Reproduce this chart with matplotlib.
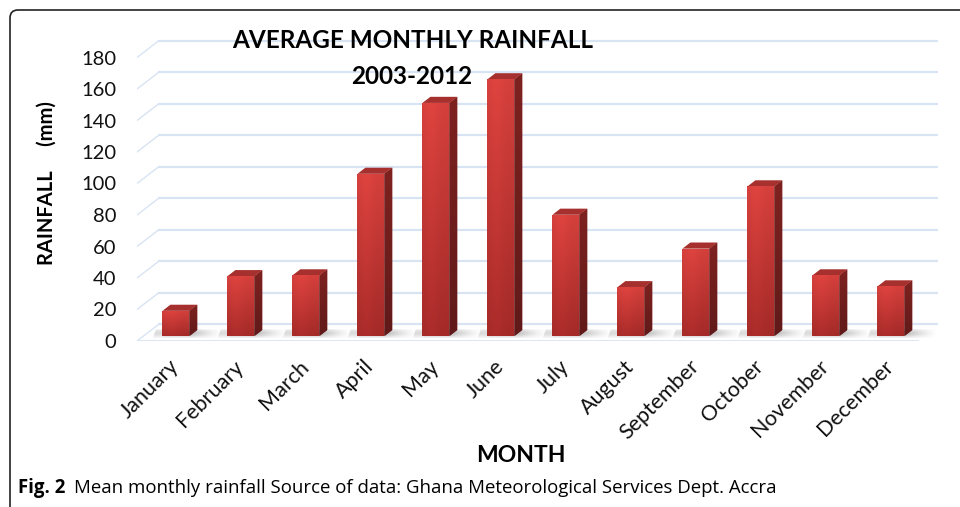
import numpy as np
import matplotlib
matplotlib.use("Agg")
import matplotlib.pyplot as plt
from matplotlib.patches import Polygon, Rectangle, FancyBboxPatch
from matplotlib.transforms import ScaledTranslation, IdentityTransform
from matplotlib import font_manager

months = ["January", "February", "March", "April", "May", "June", "July",
          "August", "September", "October", "November", "December"]
rainfall = [16, 38, 38.5, 103, 148, 163, 77, 31, 55.5, 95, 38.5, 31.5]
yticks = list(range(0, 181, 20))
title_l1 = "AVERAGE MONTHLY RAINFALL"
title_l2 = "2003-2012"
ylabel = "RAINFALL     (mm)"
xlabel = "MONTH"
cap_bold = "Fig. 2"
cap_text = "Mean monthly rainfall Source of data: Ghana Meteorological Services Dept. Accra"

plt.rcParams['font.family'] = ['Lato', 'DejaVu Sans']

avail = {f.name for f in font_manager.fontManager.ttflist}
cap_family = ['Liberation Sans Narrow', 'Open Sans', 'DejaVu Sans'] \
    if 'Liberation Sans Narrow' in avail else ['Open Sans', 'DejaVu Sans']

W, H = 960, 507
fig = plt.figure(figsize=(W / 100, H / 100), dpi=100)

# pseudo-3D geometry (data units)
DXB, DYB = 0.33, 10.5      # depth offset of back wall
F0, DEP = 0.30, 0.37       # bar front-plane position and bar depth (fraction)
BW = 0.415                 # bar width
PXU = 65.0                 # px per category
PYU = 1.575                # px per mm
XMAX = 12 + DXB + 0.02
YMAX = 196

x0px, y0px = 137, 341
ax = fig.add_axes([x0px / W, (H - y0px) / H, XMAX * PXU / W, YMAX * PYU / H])
ax.set_xlim(0, XMAX)
ax.set_ylim(0, YMAX)
for s in ax.spines.values():
    s.set_visible(False)

grid_c = '#D8E4F3'
for v in yticks:
    ax.plot([DXB, 12 + DXB], [v + DYB, v + DYB], color=grid_c, lw=1.6, zorder=1,
            solid_capstyle='butt')
    ax.plot([0, DXB], [v, v + DYB], color=grid_c, lw=1.0, zorder=1)
ax.plot([0, 12], [0, 0], color=grid_c, lw=2.0, zorder=1)

def grad_img(c_top, c_bot, c_left_boost=0.0, n=64):
    t = np.linspace(0, 1, n)[:, None]
    u = np.linspace(0, 1, n)[None, :]
    ct = np.array(c_top) / 255.0
    cb = np.array(c_bot) / 255.0
    img = ct[None, None, :] * (1 - t[..., None]) + cb[None, None, :] * t[..., None]
    hl = c_left_boost * np.exp(-((u - 0.35) ** 2) / 0.08)
    img = np.clip(img * (1 + hl[..., None]), 0, 1)
    img = img * np.ones((n, n, 1))
    return img

front_img = grad_img((212, 64, 60), (163, 42, 40), 0.05)
side_img = grad_img((126, 34, 32), (96, 26, 25))

ddx, ddy = DEP * DXB, DEP * DYB
for i, v in enumerate(rainfall):
    xl = i + 0.5 - BW / 2 + F0 * DXB
    xr = xl + BW
    yb = F0 * DYB
    yt = yb + v
    # floor shadow
    sh_x0, sh_x1 = xl - 0.15, xr + 0.45
    sy0, sy1 = yb - 1.5, yb + ddy + 0.5
    n = 80
    u = np.linspace(0, 1, n)
    xs = sh_x0 + u * (sh_x1 - sh_x0)
    a = np.where(xs < xr, 0.45, 0.45 * np.clip(1 - (xs - xr) / (sh_x1 - xr), 0, 1) ** 1.3)
    a = np.where(xs < xl, 0.25, a)
    rgba = np.zeros((6, n, 4))
    rgba[..., :3] = 0.45
    rgba[..., 3] = a[None, :] * np.array([0.3, 0.7, 1, 1, 0.7, 0.3])[:, None]
    sh_poly = Polygon([[sh_x0, sy0], [sh_x1, sy0], [sh_x1 + 0.05, sy1], [sh_x0 + 0.05, sy1]],
                      closed=True, facecolor='none', edgecolor='none')
    ax.add_patch(sh_poly)
    im = ax.imshow(rgba, extent=[sh_x0, sh_x1 + 0.05, sy0, sy1], aspect='auto',
                   zorder=2, interpolation='bilinear')
    im.set_clip_path(sh_poly)

    side = Polygon([[xr, yb], [xr + ddx, yb + ddy], [xr + ddx, yt + ddy], [xr, yt]],
                   closed=True, facecolor='#7a201e', edgecolor='none', zorder=3)
    ax.add_patch(side)
    im = ax.imshow(side_img, extent=[xr, xr + ddx, yb, yt + ddy], aspect='auto',
                   zorder=3, interpolation='bilinear')
    im.set_clip_path(side)
    top = Polygon([[xl, yt], [xr, yt], [xr + ddx, yt + ddy], [xl + ddx, yt + ddy]],
                  closed=True, facecolor='#a5302d', edgecolor='none', zorder=4)
    ax.add_patch(top)
    front = Rectangle((xl, yb), BW, v, facecolor='#c63a37', edgecolor='none', zorder=4)
    ax.add_patch(front)
    im = ax.imshow(front_img, extent=[xl, xr, yb, yt], aspect='auto', zorder=4,
                   interpolation='bilinear')
    im.set_clip_path(front)

ax.set_xlim(0, XMAX)
ax.set_ylim(0, YMAX)

ax.set_yticks(yticks)
ax.set_yticklabels([str(v) for v in yticks], fontsize=14.5, color='#111111')
ax.tick_params(axis='y', length=0, pad=15)
ax.set_xticks(np.arange(12) + 0.5)
ax.set_xticklabels(months, fontsize=15.5, rotation=45, ha='right', va='top',
                   rotation_mode='anchor', color='#111111')
ax.tick_params(axis='x', length=0, pad=11)
for lab in ax.get_xticklabels():
    lab.set_transform(lab.get_transform() + ScaledTranslation(-1 / 100, 0, fig.dpi_scale_trans))

def ftxt(x, y, s, **kw):
    return fig.text(x / W, 1 - y / H, s, **kw)

ftxt(413, 40, title_l1, fontsize=17.5, fontweight='bold', ha='center', va='center')
ftxt(412, 77, title_l2, fontsize=17.5, fontweight='bold', ha='center', va='center')
ftxt(47, 183, ylabel, fontsize=14.5, fontweight='bold', ha='center', va='center', rotation=90)
ftxt(521, 455, xlabel, fontsize=16.5, fontweight='bold', ha='center', va='center')

# caption, fitted to the reference width
cap_y = 488
c1 = ftxt(18, cap_y, cap_bold, fontsize=13, fontweight='bold', ha='left', va='center',
          family=cap_family)
c2 = ftxt(80, cap_y, cap_text, fontsize=13, ha='left', va='center', family=cap_family)
fig.canvas.draw()
r = fig.canvas.get_renderer()
b1 = c1.get_window_extent(r)
b2 = c2.get_window_extent(r)
total = (b1.width + 8 + b2.width)
scale = (775 - 18) / total
c1.set_fontsize(13 * scale)
c2.set_fontsize(13 * scale)
fig.canvas.draw()
b1 = c1.get_window_extent(r)
c2.set_x((b1.x1 + 8 * scale) / W)

frame = FancyBboxPatch((10, -20), 1000, H - 10 + 20, boxstyle="round,pad=0,rounding_size=8",
                       transform=IdentityTransform(), facecolor='none', edgecolor='#222222',
                       lw=1.2, clip_on=False)
fig.patches.append(frame)

fig.savefig("out.png", dpi=100)
